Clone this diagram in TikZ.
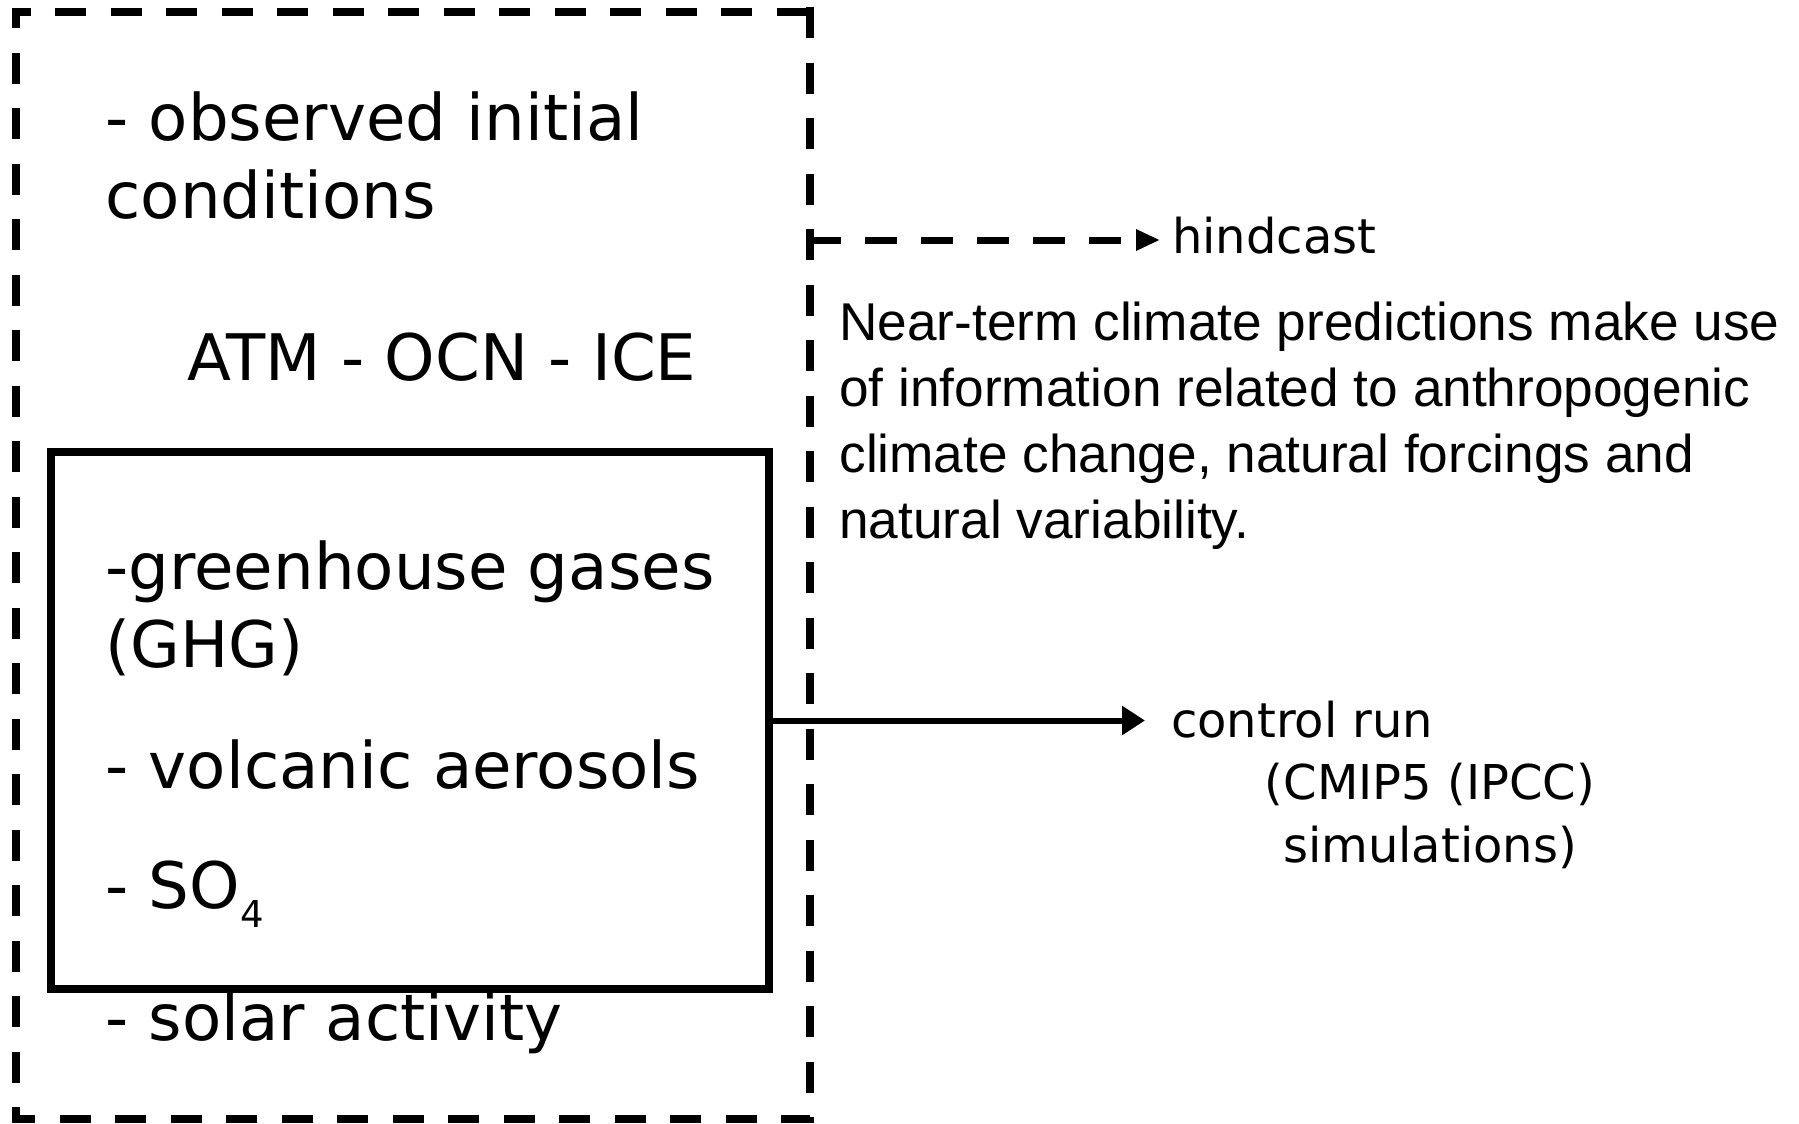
\documentclass[tikz,border=0pt]{standalone}
\usepackage{fontspec}
\setmainfont{DejaVu Sans}
\newfontfamily\libsans{Liberation Sans}
\usetikzlibrary{arrows.meta}
\begin{document}
\begin{tikzpicture}[x=0.5pt,y=-0.5pt,
  big/.style={font=\fontsize{32.1}{38.75}\selectfont, inner sep=0pt, anchor=base west, align=left},
  small/.style={font=\fontsize{24}{31.25}\selectfont, inner sep=0pt},
  para/.style={font=\libsans\fontsize{26.6}{33}\selectfont, inner sep=0pt, anchor=base west, align=left},
  framestyle/.style={line width=4pt, dash pattern=on 15.5pt off 12.25pt},
  forcebox/.style={draw, line width=4pt, minimum width=359pt, minimum height=268.5pt, inner sep=0pt},
  solidarrow/.style={line width=3pt, -{Triangle[length=11.5pt,width=14pt]}},
  dasharrow/.style={line width=3.5pt, dash pattern=on 16pt off 12pt, -{Triangle[length=12pt,width=10pt]}},
]
\useasboundingbox (0,0) rectangle (1799,1124);
% outer dashed frame
\draw[framestyle] (810,7) -- (810,1119) -- (16,1119) -- (16,11.5) -- (810,11.5);
% inner forcing box
\node[forcebox] (inner) at (410,720.5) {};
% texts in the frame (multi-line nodes are anchored at the baseline of their last line)
\node[big] (obs) at (105,218) {- observed initial\\conditions};
\node[big] (atm) at (187,380) {ATM - OCN - ICE};
\node[big] (ghg) at (105,667) {-greenhouse gases\\(GHG)};
\node[big] (volc) at (105,788) {- volcanic aerosols};
\node[big] (so4) at (105,908) {- SO\raisebox{-9.5pt}{\fontsize{18.5}{20}\selectfont 4}};
\node[big] (solar) at (105,1040) {- solar activity};
% right side
\node[small, anchor=base west, outer xsep=6pt] (hind) at (1160,253) {hindcast};
\node[para] (note) at (839,538) {Near-term climate predictions make use\\of information related to anthropogenic\\climate change, natural forcings and\\natural variability.};
\node[small, anchor=base west, outer xsep=13pt] (ctrl) at (1145,737) {control run};
\node[small, align=center, anchor=base] (cmip) at (1430,862) {(CMIP5 (IPCC)\\simulations)};
% connectors
\coordinate (hstart) at (809,240);
\draw[dasharrow] (hstart) -- (hstart -| hind.west);
\draw[solidarrow] (inner.east) -- (inner.east -| ctrl.west);
\end{tikzpicture}
\end{document}
